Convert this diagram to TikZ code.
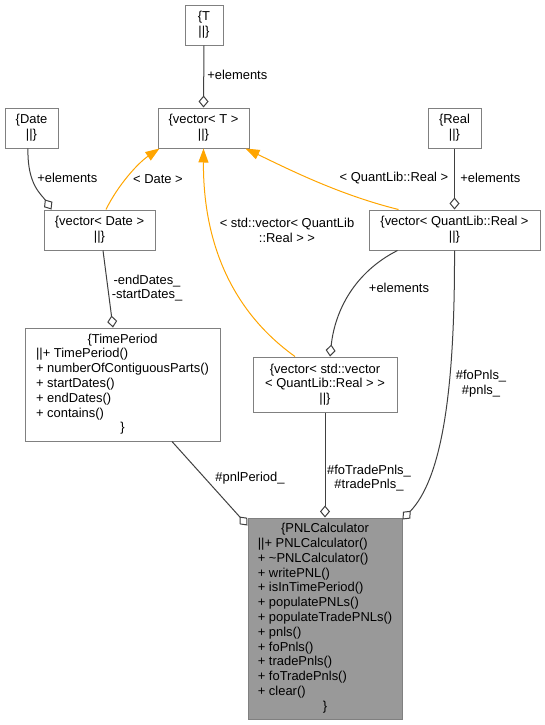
\documentclass[tikz,border=0pt]{standalone}
\usepackage{fontspec}
\setmainfont{Liberation Sans}
\usetikzlibrary{arrows.meta,calc}
\definecolor{edgegray}{HTML}{404040}
\definecolor{boxgray}{HTML}{808080}
\definecolor{tmplorange}{HTML}{FFA500}
\definecolor{pnlfill}{HTML}{999999}
\begin{document}
\begin{tikzpicture}[x=0.75pt,y=-0.75pt,
  font=\fontsize{9.7}{11.1}\selectfont,
  cls/.style={draw=boxgray, line width=0.75pt, fill=white, inner sep=0pt, align=center},
  bx/.style n args={2}{minimum width=#1*0.75pt, minimum height=#2*0.75pt},
  agg/.style={draw=edgegray, line width=0.75pt, -{Diamond[length=9pt,width=7.5pt,fill=white]}},
  tmpl/.style={draw=tmplorange, line width=0.75pt, -{Triangle[length=10.5pt,width=7.5pt]}},
  lbl/.style={inner sep=0pt, align=center}]
\useasboundingbox (0,0) rectangle (545,725);

% class boxes
\node[cls, bx={38}{40}] (T) at (204,25) {\{T\\||\}};
\node[cls, bx={91}{40}] (vT) at (203.5,128) {\{vector< T >\\||\}};
\node[cls, bx={53}{40}] (Date) at (31.5,128) {\{Date\\||\}};
\node[cls, bx={111}{40}] (vDate) at (99.5,230) {\{vector< Date >\\||\}};
\node[cls, bx={53}{40}] (Real) at (454.5,128) {\{Real\\||\}};
\node[cls, bx={171}{40}] (vReal) at (454.5,230) {\{vector< QuantLib::Real >\\||\}};
\node[cls, bx={195}{113}] (TP) at (122.5,384.5) {\begin{tabular}{@{}l@{}}\multicolumn{1}{@{}c@{}}{\{TimePeriod}\\ ||+ TimePeriod()\\ + numberOfContiguousParts()\\ + startDates()\\ + endDates()\\ + contains()\\ \multicolumn{1}{@{}c@{}}{\}}\end{tabular}};
\node[cls, bx={144}{55}] (vv) at (325,384.5) {\{vector< std::vector\\< QuantLib::Real > >\\||\}};
\node[cls, bx={154}{201}, fill=pnlfill] (PNL) at (325,618.5) {\begin{tabular}{@{}l@{}}\multicolumn{1}{@{}c@{}}{\{PNLCalculator}\\ ||+ PNLCalculator()\\ + \textasciitilde PNLCalculator()\\ + writePNL()\\ + isInTimePeriod()\\ + populatePNLs()\\ + populateTradePNLs()\\ + pnls()\\ + foPnls()\\ + tradePnls()\\ + foTradePnls()\\ + clear()\\ \multicolumn{1}{@{}c@{}}{\}}\end{tabular}};

% aggregation edges
\draw[agg] (T.south) -- (vT.north);
\node[lbl, anchor=west] (lT) at (207,75) {+elements};

\draw[agg] ($(Date.south)+(-3.5,0)$) .. controls (27,185) and (42,195) .. ($(vDate.north west)+(8,0)$);
\node[lbl, anchor=west] (lDate) at (37,178) {+elements};

\draw[agg] (Real.south) -- (vReal.north);
\node[lbl, anchor=west] (lReal) at (460,178) {+elements};

\draw[agg] ($(vDate.south)+(3.5,0)$) -- ($(TP.north)+(-9.5,0)$);
\node[lbl] (lDates) at (147,288) {-endDates\_\\-startDates\_};

\draw[agg] ($(vReal.south)+(-57,0)$) .. controls (355,272) and (335,310) .. ($(vv.north)+(5,0)$);
\node[lbl] (lvv) at (399,288) {+elements};

\draw[agg] ($(TP.south)+(49.5,0)$) -- ($(PNL.north west)+(0,8)$);
\node[lbl] (lPeriod) at (250,478) {\#pnlPeriod\_};

\draw[agg] (vv.south) -- (PNL.north);
\node[lbl] (lTrade) at (369,478) {\#foTradePnls\_\\\#tradePnls\_};

\draw[agg] (vReal.south) .. controls (455,400) and (440,480) .. ($(PNL.north east)+(0,2)$);
\node[lbl] (lPnls) at (481,384) {\#foPnls\_\\\#pnls\_};

% template instance edges
\draw[tmpl] ($(vDate.north)+(6.5,0)$) .. controls (118,185) and (138,163) .. ($(vT.south west)+(2,0)$);
\node[lbl] (lD) at (158,179) {< Date >};

\draw[tmpl] ($(vv.north)+(-30,0)$) .. controls (230,310) and (203,240) .. (vT.south);
\node[lbl] (lS) at (287,230) {< std::vector< QuantLib\\::Real > >};

\draw[tmpl] ($(vReal.north)+(-56,0)$) .. controls (340,195) and (290,170) .. ($(vT.south east)+(-4,0)$);
\node[lbl] (lR) at (394,178) {< QuantLib::Real >};
\end{tikzpicture}
\end{document}
